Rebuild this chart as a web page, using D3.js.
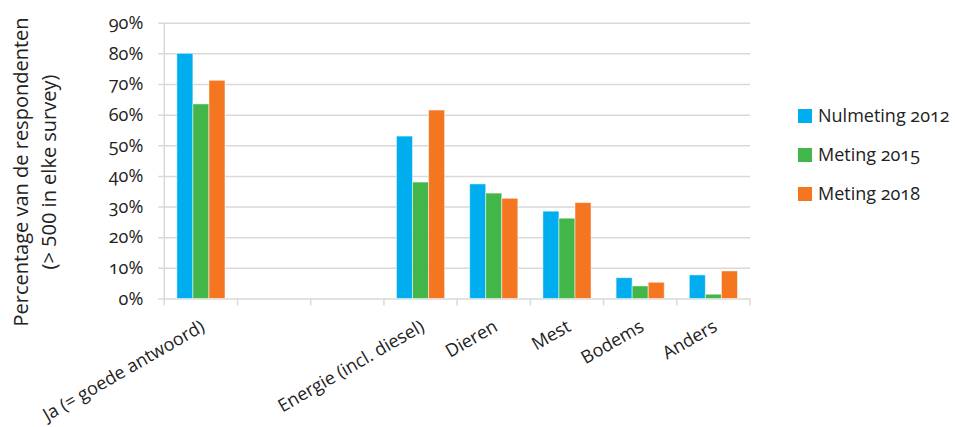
<html>
<head>
<meta charset="utf-8">
<style>
  body { margin: 0; background: #fff; }
  text { font-family: "Open Sans", sans-serif; fill: #222; }
  .num { font-variant-numeric: oldstyle-nums; }
</style>
</head>
<body>
<svg id="chart"></svg>
<script src="https://d3js.org/d3.v7.min.js"></script>
<script>
// categories on the x axis (two empty slots in the original)
var categories = ["Ja (= goede antwoord)", "", "", "Energie (incl. diesel)", "Dieren", "Mest", "Bodems", "Anders"];
var seriesNames = ["Nulmeting 2012", "Meting 2015", "Meting 2018"];
var seriesColors = ["#00aeef", "#43b649", "#f47621"];

// percentages per series, null = no bar
var nulmeting2012 = [80.0, null, null, 53.0, 37.4, 28.5, 6.8, 7.7];
var meting2015    = [63.5, null, null, 38.0, 34.4, 26.2, 4.1, 1.4];
var meting2018    = [71.2, null, null, 61.5, 32.7, 31.3, 5.3, 9.0];

var yTicks = [0, 10, 20, 30, 40, 50, 60, 70, 80, 90];

var allValues = [nulmeting2012, meting2015, meting2018];

var width = 955, height = 427;
var plot = {left: 164.3, right: 750, top: 22.7, bottom: 298.5};

var svg = d3.select("#chart")
    .attr("width", width)
    .attr("height", height);

var idx = categories.map(function(d, i) { return i; });

var xScale = d3.scaleBand()
    .domain(idx)
    .range([plot.left, plot.right])
    .paddingInner(0)
    .paddingOuter(0);

var xInner = d3.scaleBand()
    .domain(seriesNames)
    .range([0, xScale.bandwidth()])
    .paddingInner(0)
    .paddingOuter(0.78);

var yScale = d3.scaleLinear()
    .domain([0, 90])
    .range([plot.bottom, plot.top]);

// gridlines + y axis
var yAxis = d3.axisLeft(yScale)
    .tickValues(yTicks)
    .tickSize(-(plot.right - plot.left))
    .tickPadding(14)
    .tickFormat(function(d) { return d + "%"; });

var yG = svg.append("g")
    .attr("transform", "translate(" + plot.left + ",0)")
    .call(yAxis);
yG.select(".domain").remove();
yG.selectAll(".tick line")
    .attr("x1", -6)
    .attr("stroke", "#d9d9d9")
    .attr("stroke-width", 1.5);
yG.selectAll(".tick text")
    .attr("class", "num")
    .attr("x", -21)
    .style("font-size", "18px")
    .style("font-family", "'Open Sans', sans-serif")
    .attr("fill", "#222");

// vertical axis line
svg.append("line")
    .attr("x1", plot.left).attr("x2", plot.left)
    .attr("y1", plot.top).attr("y2", plot.bottom)
    .attr("stroke", "#d9d9d9")
    .attr("stroke-width", 1.5);

// x axis ticks at band edges
var edges = idx.map(function(i) { return xScale(i); }).concat([plot.right]);
svg.append("g")
    .selectAll("line")
    .data(edges)
    .enter()
    .append("line")
    .attr("x1", function(d) { return d; })
    .attr("x2", function(d) { return d; })
    .attr("y1", plot.bottom)
    .attr("y2", plot.bottom + 7)
    .attr("stroke", "#d9d9d9")
    .attr("stroke-width", 1.5);

// bars
allValues.forEach(function(values, s) {
    svg.append("g")
        .selectAll("rect")
        .data(values.map(function(v, i) { return {i: i, v: v}; })
            .filter(function(d) { return d.v !== null; }))
        .enter()
        .append("rect")
        .attr("x", function(d) { return xScale(d.i) + xInner(seriesNames[s]); })
        .attr("y", function(d) { return yScale(d.v); })
        .attr("width", xInner.bandwidth())
        .attr("height", function(d) { return plot.bottom - yScale(d.v); })
        .attr("fill", seriesColors[s])
        .attr("stroke", "#fff")
        .attr("stroke-opacity", 0.5)
        .attr("stroke-width", 1);
});

// x labels rotated
svg.append("g")
    .selectAll("text")
    .data(idx.filter(function(i) { return categories[i] !== ""; }))
    .enter()
    .append("text")
    .attr("transform", function(i) {
        return "translate(" + (xScale(i) + xScale.bandwidth() / 2 + 5) + "," + 330 + ") rotate(-30)";
    })
    .attr("text-anchor", "end")
    .style("font-size", "18px")
    .text(function(i) { return categories[i]; });

// y axis title
var title = svg.append("text")
    .attr("transform", "translate(21,172) rotate(-90)")
    .attr("text-anchor", "middle")
    .style("font-size", "20px");
title.append("tspan")
    .attr("x", 0).attr("dy", "0.35em")
    .text("Percentage van de respondenten");
title.append("tspan")
    .attr("x", 0).attr("dy", "28px")
    .text("(> 500 in elke survey)");

// legend
var legend = svg.append("g")
    .selectAll("g")
    .data(seriesNames)
    .enter()
    .append("g")
    .attr("transform", function(d, i) { return "translate(798," + (116 + i * 39) + ")"; });
legend.append("rect")
    .attr("x", 0).attr("y", -7)
    .attr("width", 14).attr("height", 14)
    .attr("fill", function(d, i) { return seriesColors[i]; });
legend.append("text")
    .attr("class", "num")
    .attr("x", 20)
    .attr("dy", "0.35em")
    .style("font-size", "18px")
    .text(function(d) { return d; });
</script>
</body>
</html>
